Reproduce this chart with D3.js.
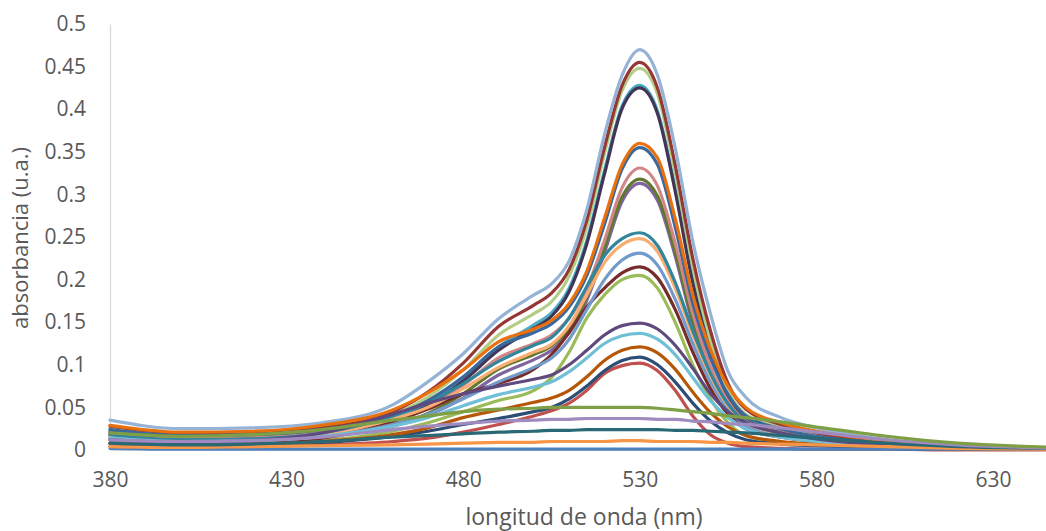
<!DOCTYPE html>
<html>
<head>
<meta charset="utf-8">
<script src="https://cdn.jsdelivr.net/npm/d3@7"></script>
<style>
  html, body { margin: 0; padding: 0; background: #fff; overflow: hidden; }
  svg { display: block; font-family: "Open Sans", "Noto Sans", sans-serif; }
</style>
</head>
<body>
<svg id="chart" width="1046" height="531"></svg>
<script>
// Absorption spectra, wavelength (nm) vs absorbance (u.a.)
const wavelengths = [380,400,420,440,460,470,480,490,500,505,510,515,520,525,530,535,540,545,550,555,560,570,580,600,620,650];

const s01 = [.035,.025,.026,.032,.053,.080,.113,.154,.182,.195,.222,.282,.370,.440,.470,.440,.355,.245,.160,.092,.062,.038,.026,.012,.005,.002];
const s02 = [.028,.020,.021,.026,.045,.068,.102,.145,.170,.184,.212,.270,.355,.428,.455,.425,.335,.225,.140,.078,.048,.030,.020,.009,.004,.002];
const s03 = [.025,.018,.019,.024,.041,.062,.094,.135,.160,.174,.204,.262,.348,.422,.448,.418,.326,.215,.130,.070,.042,.027,.018,.008,.003,.002];
const s04 = [.021,.014,.015,.020,.034,.052,.081,.117,.143,.157,.186,.242,.324,.401,.425,.395,.304,.196,.115,.062,.035,.021,.013,.006,.002,.001];
const s05 = [.022,.015,.016,.021,.036,.055,.085,.121,.147,.161,.190,.246,.328,.404,.428,.398,.308,.200,.119,.064,.036,.022,.014,.006,.003,.001];

const s06 = [.029,.021,.022,.029,.047,.067,.094,.127,.142,.152,.172,.210,.272,.335,.360,.343,.272,.182,.118,.075,.050,.032,.022,.011,.005,.002];
const s07 = [.024,.017,.018,.024,.040,.058,.086,.121,.138,.148,.168,.205,.265,.330,.355,.335,.262,.172,.108,.065,.040,.025,.016,.008,.003,.001];
const s08 = [.020,.014,.015,.020,.034,.050,.076,.108,.125,.135,.155,.190,.246,.308,.331,.310,.243,.160,.098,.057,.034,.021,.013,.006,.002,.001];
const s09 = [.016,.011,.012,.016,.029,.043,.066,.095,.112,.122,.143,.180,.237,.297,.318,.298,.233,.152,.090,.050,.029,.017,.011,.005,.002,.001];
const s10 = [.018,.012,.013,.017,.028,.041,.061,.088,.106,.117,.138,.176,.232,.292,.313,.293,.228,.148,.087,.048,.028,.016,.010,.005,.002,.001];

const s11 = [.018,.012,.013,.020,.040,.055,.078,.104,.123,.132,.155,.192,.228,.248,.255,.240,.197,.140,.090,.054,.033,.020,.013,.006,.002,.001];
const s12 = [.016,.011,.012,.018,.036,.050,.072,.097,.115,.124,.146,.182,.220,.241,.248,.233,.190,.135,.087,.052,.032,.019,.012,.006,.002,.001];
const s13 = [.014,.010,.011,.016,.030,.042,.060,.080,.097,.108,.130,.165,.200,.223,.231,.217,.177,.125,.080,.048,.029,.017,.011,.005,.002,.001];
const s14 = [.012,.008,.009,.014,.033,.048,.066,.078,.095,.112,.138,.168,.190,.208,.215,.202,.165,.115,.072,.042,.025,.015,.010,.004,.002,.001];
const s15 = [.008,.006,.007,.011,.022,.032,.045,.058,.070,.085,.115,.155,.182,.200,.205,.190,.150,.100,.060,.032,.017,.009,.006,.003,.001,.001];

const s16 = [.012,.009,.011,.020,.042,.055,.066,.075,.083,.088,.100,.117,.135,.146,.149,.142,.123,.096,.066,.045,.032,.020,.013,.006,.003,.001];
const s17 = [.014,.010,.011,.016,.028,.038,.052,.065,.074,.080,.092,.108,.125,.134,.137,.130,.112,.085,.058,.038,.025,.015,.010,.005,.002,.001];
const s18 = [.008,.006,.007,.010,.018,.026,.038,.047,.056,.061,.070,.086,.105,.117,.121,.114,.095,.068,.044,.027,.017,.010,.007,.003,.001,.001];
const s19 = [.008,.006,.007,.009,.016,.022,.030,.037,.045,.050,.060,.075,.093,.105,.109,.100,.080,.055,.034,.020,.012,.007,.005,.002,.001,.001];
const s20 = [.004,.003,.004,.006,.010,.014,.021,.030,.040,.046,.055,.070,.090,.099,.102,.093,.070,.040,.018,.008,.004,.002,.001,.001,.000,.000];

const s21 = [.020,.016,.018,.024,.035,.040,.045,.048,.049,.050,.050,.050,.050,.050,.050,.049,.047,.045,.043,.040,.038,.033,.027,.016,.008,.003];
const s22 = [.012,.010,.011,.015,.024,.028,.031,.034,.035,.036,.036,.037,.037,.037,.037,.036,.036,.034,.033,.031,.030,.026,.021,.012,.006,.002];
const s23 = [.008,.006,.007,.010,.015,.017,.019,.021,.022,.023,.023,.024,.024,.024,.024,.024,.023,.023,.022,.021,.020,.017,.014,.008,.004,.002];
const s24 = [.004,.003,.004,.005,.006,.007,.008,.009,.009,.010,.010,.010,.010,.011,.011,.010,.010,.010,.009,.009,.008,.007,.006,.004,.002,.001];
const s25 = [.002,.001,.001,.001,.001,.001,.001,.001,.001,.001,.001,.001,.001,.001,.001,.001,.001,.001,.001,.001,.001,.001,.001,.001,.001,.002];

// drawing order: first entry is drawn first (bottom)
const seriesValues = [s05, s04, s03, s02, s01, s10, s09, s08, s07, s06, s15, s14, s13, s12, s11, s20, s19, s18, s17, s16, s25, s24, s23, s22, s21];
const seriesColors = ["#4BACC6", "#433556", "#B4CD86", "#953735", "#95B3D7",
                      "#8064A2", "#60782F", "#D08785", "#3A679C", "#E8700F",
                      "#9BBB59", "#772C2A", "#729ACA", "#F9AD72", "#31859C",
                      "#C0504D", "#2C4D75", "#B65708", "#6FBFD6", "#5F4A7E",
                      "#4F81BD", "#F79646", "#296976", "#9F8BBF", "#7E9F46"];

const xTicks = [380, 430, 480, 530, 580, 630];
const yTicks = [0, 0.05, 0.1, 0.15, 0.2, 0.25, 0.3, 0.35, 0.4, 0.45, 0.5];
const xTitle = "longitud de onda (nm)";
const yTitle = "absorbancia (u.a.)";

const svg = d3.select("#chart");
const plotLeft = 110, plotTop = 24, plotBottom = 450;

const x = d3.scaleLinear().domain([380, 650]).range([plotLeft, plotLeft + 270 * 3.532]);
const y = d3.scaleLinear().domain([0, 0.5]).range([plotBottom, plotTop]);

// axis lines
svg.append("line")
  .attr("x1", plotLeft).attr("x2", 1046)
  .attr("y1", plotBottom).attr("y2", plotBottom)
  .attr("stroke", "#D9D9D9").attr("stroke-width", 1.3);

const yAxis = d3.axisLeft(y).tickValues(yTicks).tickSize(0).tickPadding(24)
  .tickFormat(d => d3.format("")(+d.toFixed(2)));
const gy = svg.append("g").attr("transform", `translate(${plotLeft},0)`).call(yAxis);
gy.select(".domain").attr("stroke", "#D9D9D9").attr("stroke-width", 1.3);
gy.selectAll("text").attr("fill", "#595959").attr("font-size", 21)
  .attr("font-family", "'Open Sans', sans-serif");

const xAxis = d3.axisBottom(x).tickValues(xTicks).tickSize(0).tickPadding(22)
  .tickFormat(d3.format("d"));
const gx = svg.append("g").attr("transform", `translate(0,${plotBottom})`).call(xAxis);
gx.select(".domain").remove();
gx.selectAll("text").attr("fill", "#595959").attr("font-size", 21)
  .attr("font-family", "'Open Sans', sans-serif");

// spectra
const line = d3.line()
  .x((d, i) => x(wavelengths[i]))
  .y(d => y(d))
  .curve(d3.curveMonotoneX);

svg.append("g")
  .selectAll("path")
  .data(seriesValues)
  .join("path")
  .attr("d", d => line(d))
  .attr("fill", "none")
  .attr("stroke", (d, i) => seriesColors[i])
  .attr("stroke-width", 3.2)
  .attr("stroke-linejoin", "round")
  .attr("stroke-linecap", "round");

// axis titles
svg.append("text")
  .attr("x", 584).attr("y", 519)
  .attr("text-anchor", "middle").attr("dominant-baseline", "middle")
  .attr("font-size", 23).attr("fill", "#595959")
  .text(xTitle);

svg.append("text")
  .attr("transform", "translate(22,238) rotate(-90)")
  .attr("text-anchor", "middle").attr("dominant-baseline", "middle")
  .attr("font-size", 22).attr("fill", "#595959")
  .text(yTitle);
</script>
</body>
</html>
